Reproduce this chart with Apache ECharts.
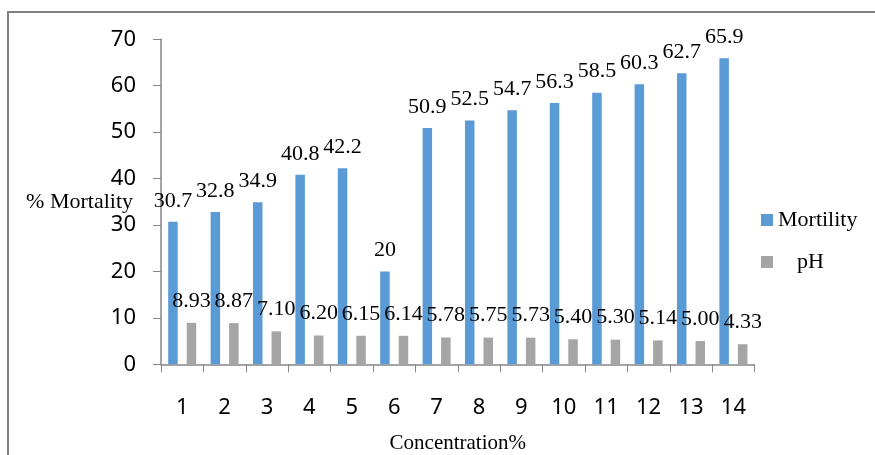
<!DOCTYPE html>
<html>
<head>
<meta charset="utf-8">
<script src="https://cdn.jsdelivr.net/npm/echarts@6/dist/echarts.min.js"></script>
<style>
html,body{margin:0;padding:0;background:#fff;}
#c{width:875px;height:455px;}
</style>
</head>
<body>
<div id="c"></div>
<script>
const categories = ['1','2','3','4','5','6','7','8','9','10','11','12','13','14'];
const mortality = [30.7, 32.8, 34.9, 40.8, 42.2, 20, 50.9, 52.5, 54.7, 56.3, 58.5, 60.3, 62.7, 65.9];
const ph = [8.93, 8.87, 7.10, 6.20, 6.15, 6.14, 5.78, 5.75, 5.73, 5.40, 5.30, 5.14, 5.00, 4.33];
const yTicks = {min: 0, max: 70, interval: 10};

const serif = '"Liberation Serif", "Times New Roman", serif';
const sans = '"Noto Sans", "Open Sans", sans-serif';

const chart = echarts.init(document.getElementById('c'), null, {renderer: 'canvas'});
chart.setOption({
  animation: false,
  backgroundColor: '#ffffff',
  graphic: [{
    type: 'rect',
    shape: {x: 8, y: 12, width: 1000, height: 600},
    style: {fill: null, stroke: '#808080', lineWidth: 2},
    silent: true
  }],
  grid: {left: 161, right: 120.4, top: 39.3, bottom: 90.7, containLabel: false, outerBoundsMode: 'none'},
  legend: {
    orient: 'vertical',
    left: 756,
    top: 204,
    itemWidth: 12,
    itemHeight: 12,
    itemGap: 20,
    icon: 'rect',
    textStyle: {fontFamily: serif, fontSize: 22, color: '#000', lineHeight: 22},
    data: [
      {name: 'Mortility'},
      {name: 'pH', textStyle: {padding: [0, 0, 0, 19]}}
    ]
  },
  xAxis: {
    type: 'category',
    data: categories,
    name: 'Concentration%',
    nameLocation: 'middle',
    nameGap: 69,
    nameMoveOverlap: false,
    nameTextStyle: {fontFamily: serif, fontSize: 21, color: '#000'},
    axisLine: {lineStyle: {color: '#868686', width: 1.5}},
    axisTick: {show: true, length: 8, lineStyle: {color: '#868686'}},
    axisLabel: {fontFamily: sans, fontSize: 22, color: '#000', margin: 32}
  },
  yAxis: {
    type: 'value',
    min: yTicks.min,
    max: yTicks.max,
    interval: yTicks.interval,
    name: '% Mortality',
    nameLocation: 'middle',
    nameRotate: 0,
    nameGap: 28,
    nameMoveOverlap: false,
    nameTextStyle: {fontFamily: serif, fontSize: 22, color: '#000', align: 'right'},
    splitLine: {show: false},
    axisLine: {show: true, lineStyle: {color: '#868686', width: 1.5}},
    axisTick: {show: true, length: 8, lineStyle: {color: '#868686'}},
    axisLabel: {fontFamily: sans, fontSize: 22, color: '#000', margin: 25}
  },
  series: [
    {
      name: 'Mortility',
      type: 'bar',
      data: mortality,
      barWidth: 9.5,
      barGap: '95%',
      itemStyle: {color: '#5B9BD5'},
      label: {
        show: true, position: 'top', distance: 10,
        fontFamily: serif, fontSize: 22, color: '#000',
        formatter: p => String(p.value)
      }
    },
    {
      name: 'pH',
      type: 'bar',
      data: ph,
      barWidth: 9.5,
      barGap: '95%',
      itemStyle: {color: '#A5A5A5'},
      label: {
        show: true, position: 'top', distance: 11,
        fontFamily: serif, fontSize: 22, color: '#000',
        formatter: p => p.value.toFixed(2)
      }
    }
  ]
});
</script>
</body>
</html>
